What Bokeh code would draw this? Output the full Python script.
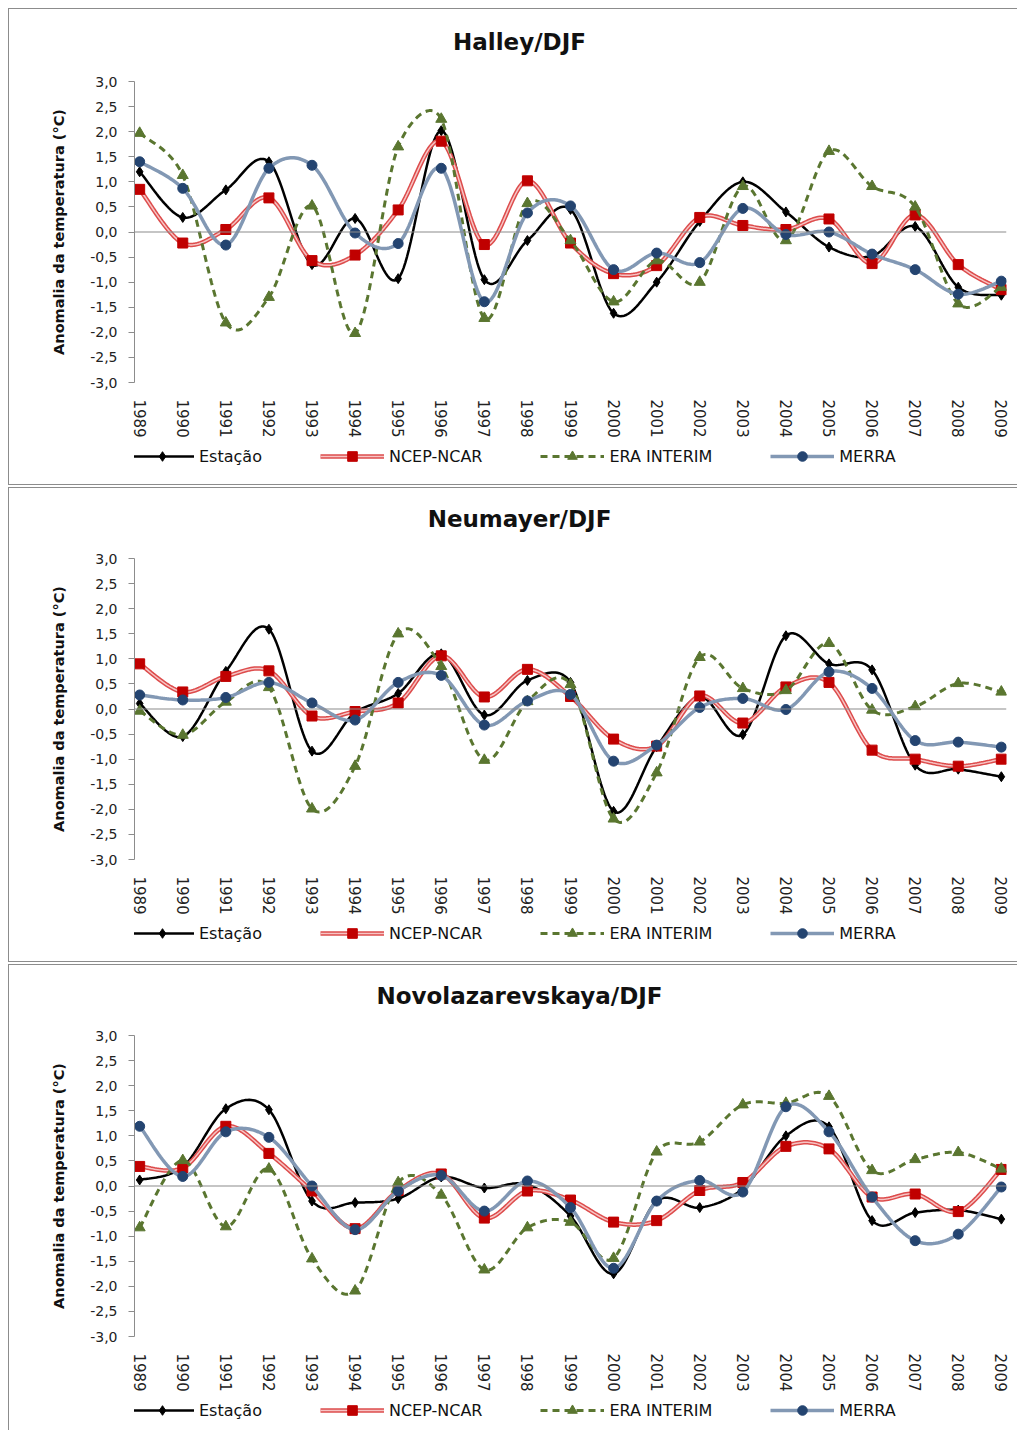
import numpy as np
from bokeh.plotting import figure
from bokeh.layouts import column, row
from bokeh.models import (Span, Legend, LegendItem, FixedTicker, Range1d,
                          CustomJSTickFormatter, Spacer, Label)
from bokeh.embed import file_html
from bokeh.resources import INLINE

# ---------------- data ----------------
years = list(range(1989, 2010))
y_tick_values = [3.0, 2.5, 2.0, 1.5, 1.0, 0.5, 0.0, -0.5, -1.0, -1.5, -2.0, -2.5, -3.0]
y_tick_labels = ["3,0", "2,5", "2,0", "1,5", "1,0", "0,5", "0,0",
                 "-0,5", "-1,0", "-1,5", "-2,0", "-2,5", "-3,0"]
series_names = ["Estação", "NCEP-NCAR", "ERA INTERIM", "MERRA"]
y_axis_title = "Anomalia da temperatura (°C)"

halley_title = "Halley/DJF"
halley_estacao = [1.20, 0.29, 0.84, 1.40, -0.65, 0.27, -0.93, 2.02, -0.95, -0.17, 0.45,
                  -1.62, -1.00, 0.21, 1.00, 0.40, -0.30, -0.48, 0.11, -1.10, -1.26]
halley_ncep = [0.85, -0.22, 0.05, 0.68, -0.57, -0.46, 0.44, 1.81, -0.25, 1.02, -0.22,
               -0.83, -0.67, 0.29, 0.13, 0.05, 0.26, -0.63, 0.34, -0.65, -1.15]
halley_era = [1.97, 1.13, -1.81, -1.30, 0.52, -2.02, 1.70, 2.25, -1.72, 0.57, -0.17,
              -1.39, -0.57, -1.00, 0.91, -0.17, 1.61, 0.91, 0.50, -1.43, -1.10]
halley_merra = [1.40, 0.87, -0.26, 1.27, 1.33, -0.02, -0.23, 1.27, -1.39, 0.38, 0.52,
                -0.75, -0.42, -0.61, 0.47, -0.05, 0.00, -0.44, -0.75, -1.24, -0.98]

neumayer_title = "Neumayer/DJF"
neumayer_estacao = [0.11, -0.55, 0.75, 1.59, -0.84, -0.07, 0.31, 1.10, -0.12, 0.57, 0.53,
                    -2.04, -0.75, 0.24, -0.51, 1.46, 0.90, 0.78, -1.12, -1.20, -1.35]
neumayer_ncep = [0.90, 0.34, 0.65, 0.76, -0.14, -0.05, 0.12, 1.06, 0.24, 0.79, 0.25,
                 -0.60, -0.74, 0.26, -0.28, 0.44, 0.53, -0.82, -1.00, -1.14, -1.00]
neumayer_era = [-0.04, -0.52, 0.14, 0.43, -1.99, -1.14, 1.50, 0.85, -1.02, 0.15, 0.49,
                -2.19, -1.27, 1.03, 0.41, 0.37, 1.31, -0.02, 0.05, 0.51, 0.34]
neumayer_merra = [0.28, 0.18, 0.23, 0.53, 0.12, -0.22, 0.53, 0.67, -0.32, 0.16, 0.29,
                  -1.04, -0.72, 0.03, 0.21, -0.01, 0.74, 0.41, -0.63, -0.66, -0.76]

novo_title = "Novolazarevskaya/DJF"
novo_estacao = [0.12, 0.38, 1.54, 1.52, -0.30, -0.33, -0.25, 0.18, -0.04, 0.03, -0.60,
                -1.75, -0.30, -0.43, -0.05, 1.00, 1.18, -0.69, -0.53, -0.48, -0.66]
novo_ncep = [0.39, 0.36, 1.19, 0.65, -0.10, -0.85, -0.09, 0.24, -0.64, -0.10, -0.28,
             -0.72, -0.69, -0.09, 0.07, 0.79, 0.74, -0.22, -0.16, -0.51, 0.33]
novo_era = [-0.83, 0.51, -0.81, 0.34, -1.45, -2.09, 0.07, -0.18, -1.67, -0.83, -0.72,
            -1.44, 0.68, 0.88, 1.62, 1.65, 1.79, 0.31, 0.53, 0.67, 0.34]
novo_merra = [1.19, 0.19, 1.08, 0.97, 0.00, -0.87, -0.10, 0.21, -0.50, 0.10, -0.43,
              -1.64, -0.30, 0.11, -0.12, 1.58, 1.08, -0.22, -1.09, -0.96, -0.02]

FONT = "DejaVu Sans"
FIG_W = 1009
ML, MR = 125, 12
X0, X1 = 1988.88, 2009.12
GRAY = "#8c8c8c"
BORDER = f"1px solid {GRAY}"


# ------------- Excel-like smoothed line (Bezier, computed in pixel space) -------------
def smooth(xs, ys, frame_h, n=24):
    frame_w = FIG_W - ML - MR
    sx = frame_w / (X1 - X0)
    sy = frame_h / 6.0
    pts = np.column_stack([np.asarray(xs, float) * sx, np.asarray(ys, float) * sy])
    m = len(pts)
    out = []

    def arms(i):
        p1 = pts[i]
        p0 = pts[i - 1] if i > 0 else pts[i]
        p2 = pts[i + 1] if i + 1 < m else pts[i]
        T = p2 - p0
        L = np.hypot(*T)
        if L == 0:
            return np.zeros(2), np.zeros(2)
        u = T / L
        a = L / 6.0
        back = min(a, 0.5 * np.hypot(*(p1 - p0))) if i > 0 else 0.0
        fwd = min(a, 0.5 * np.hypot(*(p2 - p1))) if i + 1 < m else 0.0
        return -u * back, u * fwd

    arm = [arms(i) for i in range(m)]
    for i in range(m - 1):
        p1, p2 = pts[i], pts[i + 1]
        c1 = p1 + arm[i][1]
        c2 = p2 + arm[i + 1][0]
        t = np.linspace(0, 1, n, endpoint=(i == m - 2))[:, None]
        b = ((1 - t) ** 3) * p1 + 3 * ((1 - t) ** 2) * t * c1 + 3 * (1 - t) * t ** 2 * c2 + t ** 3 * p2
        out.append(b)
    arr = np.vstack(out)
    return arr[:, 0] / sx, arr[:, 1] / sy


def style_series(p, k, lx, ly, mx_, my_):
    if k == 0:
        return [p.line(lx, ly, line_color="black", line_width=2.5),
                p.scatter(mx_, my_, marker="diamond", size=10, fill_color="black", line_color="black")]
    if k == 1:
        return [p.line(lx, ly, line_color="#dd4c4c", line_width=4.5),
                p.line(lx, ly, line_color="#f7c4c4", line_width=1.5),
                p.scatter(mx_, my_, marker="square", size=10, fill_color="#c00000", line_color="#c00000")]
    if k == 2:
        return [p.line(lx, ly, line_color="#5a7630", line_width=3, line_dash="7 5"),
                p.scatter(mx_, my_, marker="triangle", size=11, fill_color="#5a7630", line_color="#5a7630")]
    return [p.line(lx, ly, line_color="#8298b4", line_width=3.5),
            p.scatter(mx_, my_, marker="circle", size=10, fill_color="#244470", line_color="#244470")]


def strip(height, styles):
    s = figure(width=FIG_W, height=height, x_range=Range1d(0, 1), y_range=Range1d(0, 1),
               output_backend="svg", toolbar_location=None,
               x_axis_location=None, y_axis_location=None, min_border=0,
               background_fill_color="white", border_fill_color="white")
    s.outline_line_color = None
    s.grid.visible = False
    s.styles = styles
    return s


def make_panel(title, data, title_y, fig_h, top, frame_h, leg_h, leg_y, bottom_border=True):
    # title strip
    ts = strip(50, {"border-left": BORDER, "border-top": BORDER, "box-sizing": "border-box"})
    ts.add_layout(Label(x=385, y=title_y, x_units="screen", y_units="screen", text=title,
                        text_align="center", text_baseline="middle", text_font=FONT,
                        text_font_size="23px", text_font_style="bold", text_color="#111111"))

    bottom = fig_h - top - frame_h
    p = figure(width=FIG_W, height=fig_h,
               x_range=Range1d(X0, X1), y_range=Range1d(-3, 3),
               output_backend="svg", toolbar_location=None,
               min_border_left=ML, min_border_right=MR,
               min_border_top=top, min_border_bottom=bottom,
               background_fill_color="white", border_fill_color="white")
    p.outline_line_color = None
    p.xgrid.visible = False
    p.ygrid.visible = False

    ya = p.yaxis[0]
    ya.ticker = FixedTicker(ticks=y_tick_values)
    ya.formatter = CustomJSTickFormatter(
        args=dict(vals=y_tick_values, labs=y_tick_labels),
        code="const i = vals.findIndex(v => Math.abs(v - tick) < 1e-9); return i >= 0 ? labs[i] : '';")
    ya.axis_line_color = GRAY
    ya.major_tick_line_color = GRAY
    ya.major_tick_out = 6
    ya.major_tick_in = 0
    ya.minor_tick_line_color = None
    ya.major_label_text_font = FONT
    ya.major_label_text_font_size = "14px"
    ya.major_label_text_color = "#222222"
    ya.major_label_standoff = 11
    ya.axis_label = y_axis_title
    ya.axis_label_text_font = FONT
    ya.axis_label_text_font_size = "14.5px"
    ya.axis_label_text_font_style = "bold"
    ya.axis_label_text_color = "#111111"
    ya.axis_label_standoff = 20

    xa = p.xaxis[0]
    xa.ticker = FixedTicker(ticks=years)
    xa.axis_line_color = None
    xa.major_tick_line_color = None
    xa.minor_tick_line_color = None
    xa.major_label_orientation = "vertical"
    xa.major_label_text_font = FONT
    xa.major_label_text_font_size = "15px"
    xa.major_label_text_color = "#222222"
    xa.major_label_standoff = 11

    p.add_layout(Span(location=0, dimension="width", line_color=GRAY, line_width=1.2))

    for k, ys in enumerate(data):
        lx, ly = smooth(years, ys, frame_h)
        style_series(p, k, lx, ly, years, ys)

    p.styles = {"border-left": BORDER, "box-sizing": "border-box"}

    # legend strip (separate figure so that the legend is not clipped)
    st = {"border-left": BORDER, "box-sizing": "border-box"}
    if bottom_border:
        st["border-bottom"] = BORDER
    lf = strip(leg_h, st)
    items = []
    for k in range(4):
        # legend swatches only: glyphs lie outside the strip's visible range
        rs = style_series(lf, k, [-10, -9], [-10, -9], [-10], [-10])
        items.append(LegendItem(label=series_names[k], renderers=rs))
    leg = Legend(items=items, orientation="horizontal", location=(-4, leg_y),
                 glyph_width=64, glyph_height=24, label_height=24, label_text_font=FONT,
                 label_text_font_size="16px", label_text_color="#111111",
                 label_standoff=5, spacing=58, padding=0, margin=0,
                 border_line_color=None, background_fill_alpha=0)
    lf.add_layout(leg, "center")
    return [ts, p, lf]


panel1 = make_panel(halley_title, [halley_estacao, halley_ncep, halley_era, halley_merra],
                    18, 382, 23, 307, 45, 17)
panel2 = make_panel(neumayer_title, [neumayer_estacao, neumayer_ncep, neumayer_era, neumayer_merra],
                    20, 380, 21, 305, 45, 17)
panel3 = make_panel(novo_title, [novo_estacao, novo_ncep, novo_era, novo_merra],
                    20, 380, 21, 305, 36, 8, bottom_border=False)

layout = row(Spacer(width=8),
             column(Spacer(height=8), *panel1, Spacer(height=2), *panel2,
                    Spacer(height=2), *panel3))

with open("out.html", "w") as f:
    f.write(file_html(layout, INLINE))
